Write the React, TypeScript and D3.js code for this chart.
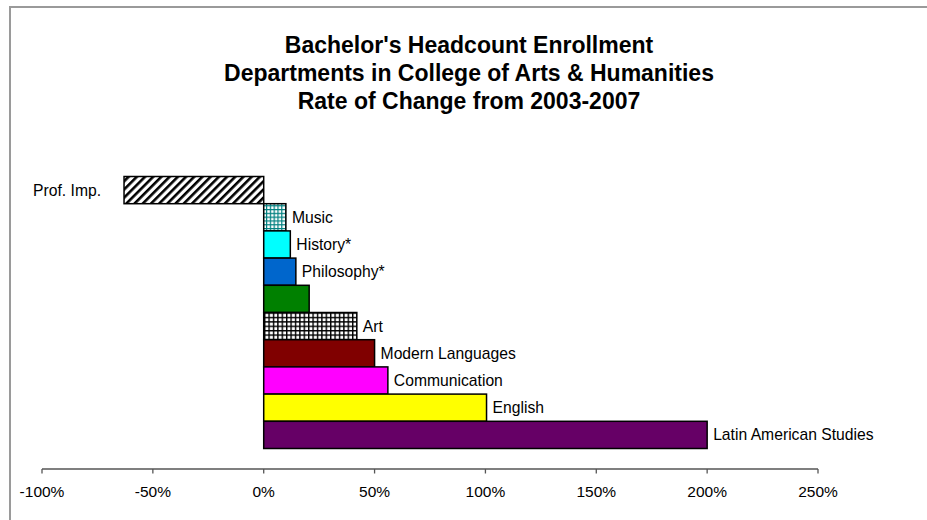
import React from "react";
import * as d3 from "d3";

const categories = [
  "Prof. Imp.",
  "Music",
  "History*",
  "Philosophy*",
  "",
  "Art",
  "Modern Languages",
  "Communication",
  "English",
  "Latin American Studies",
];
const values = [-0.63, 0.1, 0.12, 0.145, 0.205, 0.42, 0.5, 0.56, 1.005, 2.0];
const fills = [
  "url(#stripes)",
  "url(#tealgrid)",
  "#00FFFF",
  "#0066CC",
  "#008000",
  "url(#blackgrid)",
  "#800000",
  "#FF00FF",
  "#FFFF00",
  "#660066",
];
const tickValues = [-1, -0.5, 0, 0.5, 1, 1.5, 2, 2.5];
const titleLines = [
  "Bachelor's Headcount Enrollment",
  "Departments in College of Arts & Humanities",
  "Rate of Change from 2003-2007",
];

export default function App() {
  const W = 927;
  const H = 520;
  const x = d3.scaleLinear().domain([-1, 2.5]).range([42, 818]);
  const y = d3
    .scaleBand<number>()
    .domain(d3.range(categories.length))
    .range([176.5, 448.5])
    .padding(0);
  const axisY = 469;
  const font = "Arial, 'Liberation Sans', sans-serif";
  const fmt = (t: number) => `${Math.round(t * 100)}%`;

  return (
    <svg
      width={W}
      height={H}
      style={{ position: "absolute", left: 0, top: 0, background: "#fff" }}
      fontFamily={font}
    >
      <defs>
        <pattern
          id="stripes"
          patternUnits="userSpaceOnUse"
          width={5.8}
          height={5.8}
          patternTransform="rotate(45)"
        >
          <rect width={5.8} height={5.8} fill="#fff" />
          <rect width={2.6} height={5.8} fill="#000" />
        </pattern>
        <pattern id="tealgrid" patternUnits="userSpaceOnUse" width={3.8} height={3.8}>
          <rect width={3.8} height={3.8} fill="#fff" />
          <rect width={1.2} height={3.8} fill="#008080" />
          <rect width={3.8} height={1.2} fill="#008080" />
        </pattern>
        <pattern id="blackgrid" patternUnits="userSpaceOnUse" width={4.4} height={4.4}>
          <rect width={4.4} height={4.4} fill="#000" />
          <rect x={1.4} y={1.4} width={3} height={3} fill="#fff" />
        </pattern>
      </defs>

      {/* frame */}
      <rect x={10} y={7} width={W + 20} height={H + 20} fill="none" stroke="#9a9a9a" strokeWidth={2} />

      {/* title */}
      {titleLines.map((t, i) => (
        <text
          key={i}
          x={469}
          y={53 + i * 28}
          textAnchor="middle"
          fontSize={23}
          fontWeight="bold"
          fill="#000"
        >
          {t}
        </text>
      ))}

      {/* bars */}
      {values.map((v, i) => (
        <rect
          key={i}
          x={x(Math.min(0, v))}
          y={y(i)}
          width={Math.abs(x(v) - x(0))}
          height={y.bandwidth()}
          fill={fills[i]}
          stroke="#000"
          strokeWidth={1.5}
        />
      ))}

      {/* labels */}
      {values.map((v, i) =>
        categories[i] ? (
          <text
            key={i}
            x={v < 0 ? x(v) - 23 : x(v) + 6}
            y={(y(i) as number) + y.bandwidth() / 2}
            dy="0.35em"
            textAnchor={v < 0 ? "end" : "start"}
            fontSize={15.7}
            fill="#000"
          >
            {categories[i]}
          </text>
        ) : null
      )}

      {/* axis */}
      <line x1={x(-1)} x2={x(2.5)} y1={axisY} y2={axisY} stroke="#555" strokeWidth={1.3} />
      {tickValues.map((t) => (
        <g key={t}>
          <line x1={x(t)} x2={x(t)} y1={axisY} y2={axisY + 4.5} stroke="#555" strokeWidth={1.3} />
          <text x={x(t)} y={497} textAnchor="middle" fontSize={15.5} fill="#000">
            {fmt(t)}
          </text>
        </g>
      ))}
    </svg>
  );
}
